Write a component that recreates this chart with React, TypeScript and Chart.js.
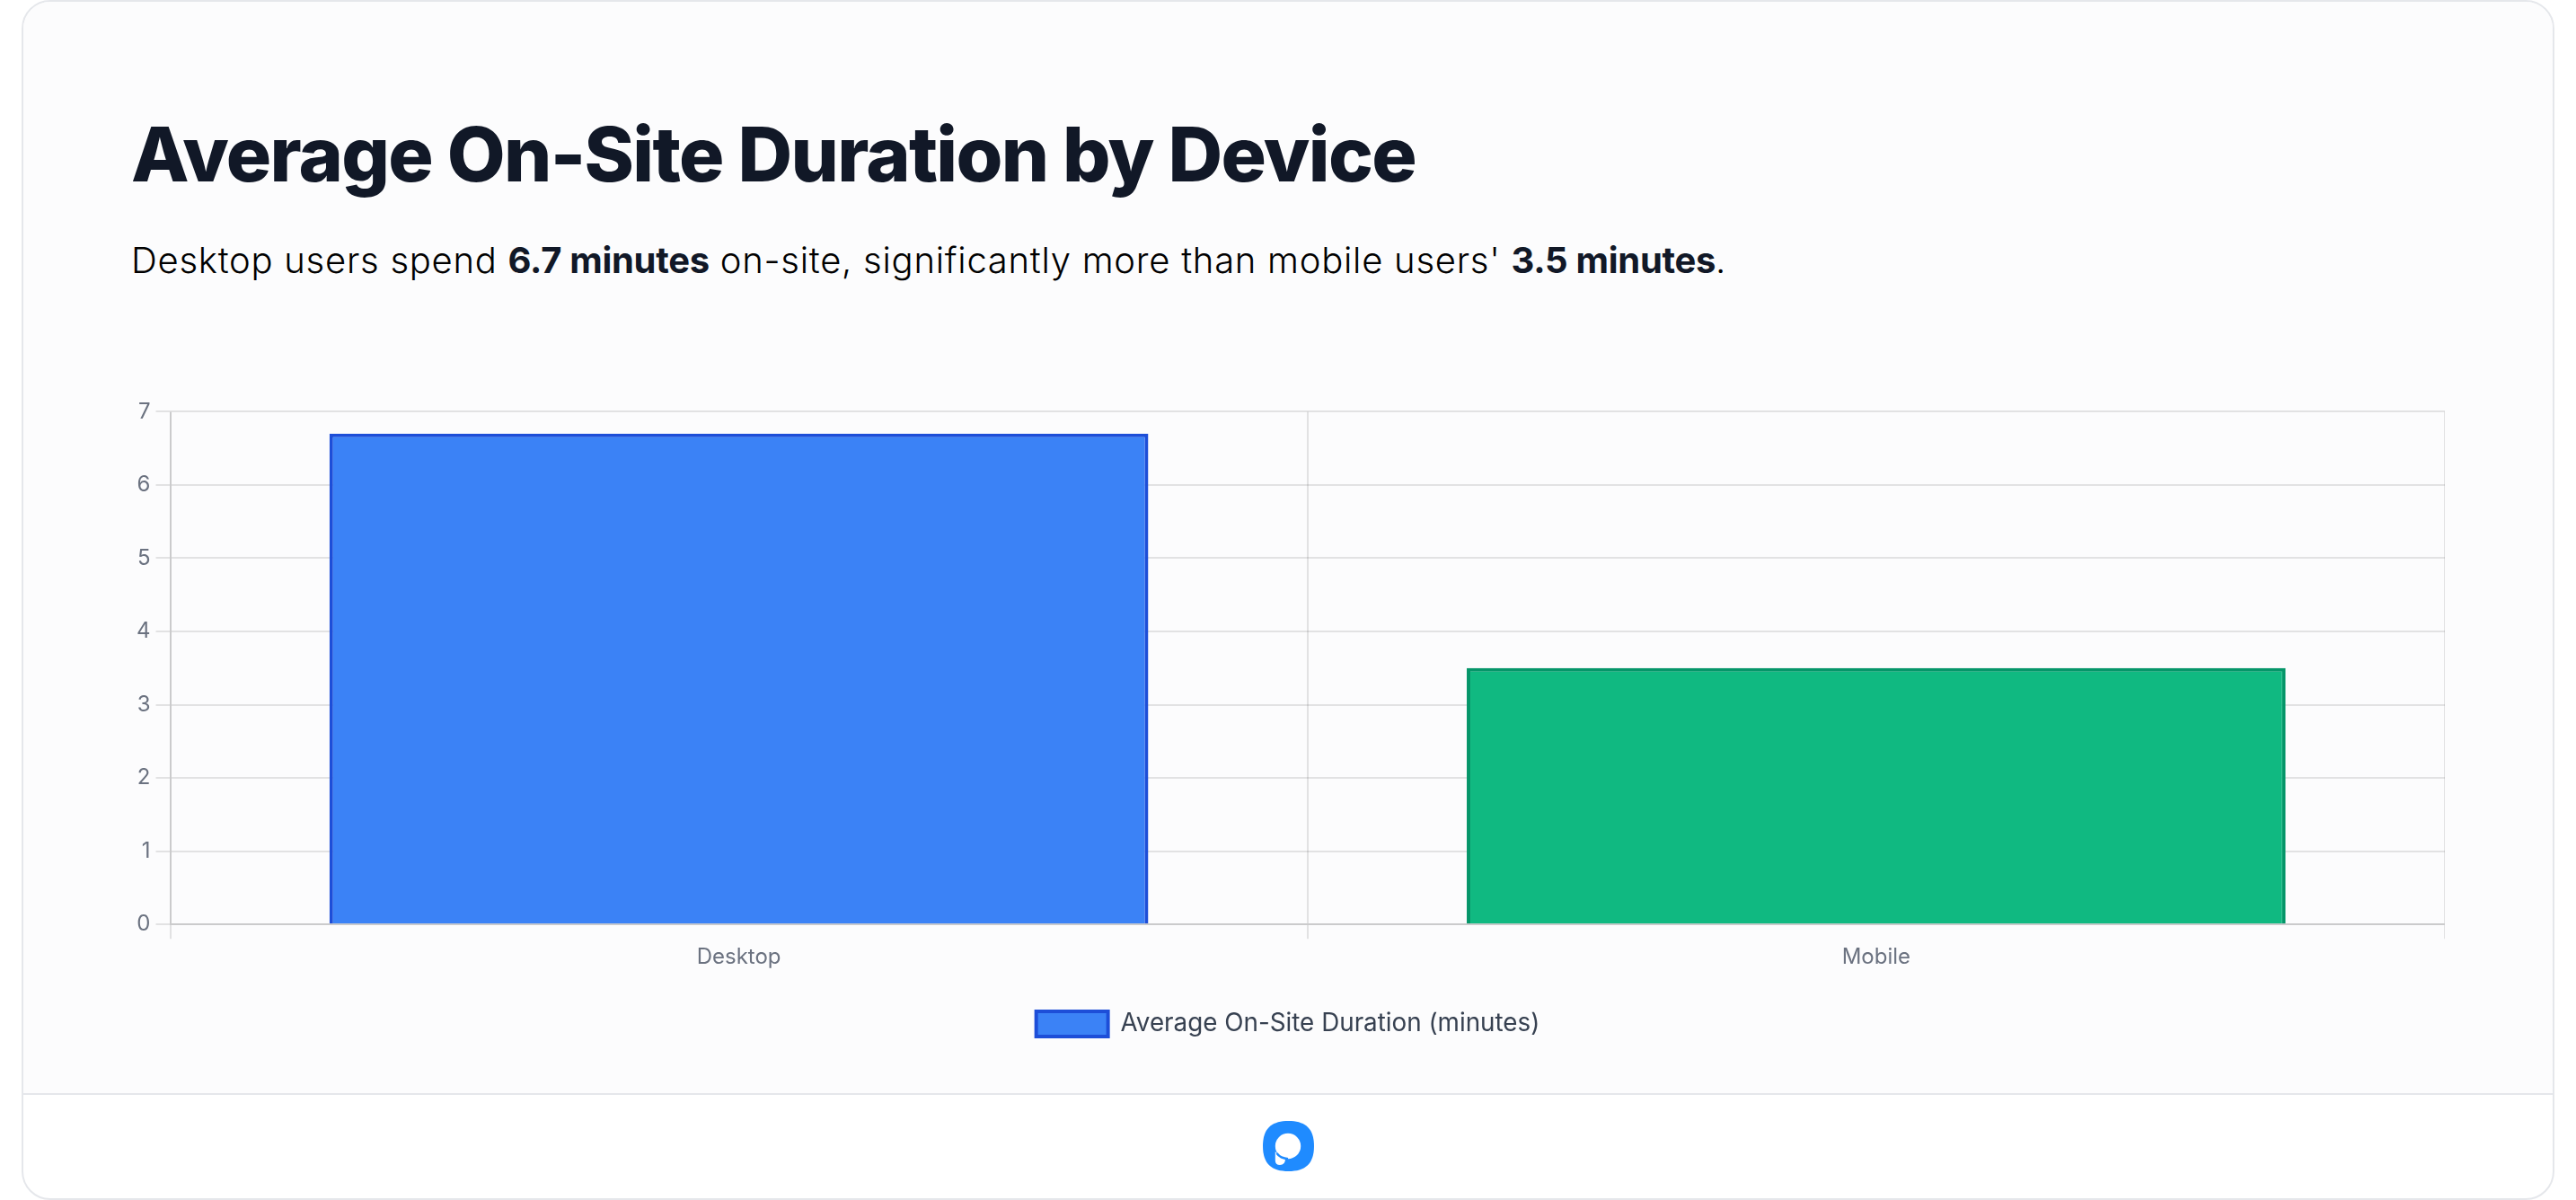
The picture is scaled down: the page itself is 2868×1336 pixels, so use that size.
import { useEffect, useRef } from 'react';
import { Chart, registerables } from 'chart.js';

Chart.register(...registerables);

const categories = ['Desktop', 'Mobile'];
const durations = [6.7, 3.5];
const barColors = ['#3b82f6', '#10b981'];
const barBorders = ['#1d4ed8', '#059669'];
const seriesLabel = 'Average On-Site Duration (minutes)';

const FONT = 'Inter, sans-serif';

function DurationChart() {
  const canvasRef = useRef<HTMLCanvasElement>(null);

  useEffect(() => {
    if (!canvasRef.current) return;
    const chart = new Chart(canvasRef.current, {
      type: 'bar',
      data: {
        labels: categories,
        datasets: [{
          label: seriesLabel,
          data: durations,
          backgroundColor: barColors,
          borderColor: barBorders,
          borderWidth: 4,
        }],
      },
      options: {
        responsive: false,
        animation: false,
        devicePixelRatio: 1,
        layout: { padding: 0 },
        plugins: {
          tooltip: { enabled: false },
          legend: {
            position: 'bottom',
            labels: {
              color: '#374151',
              boxWidth: 80,
              boxHeight: 28,
              padding: 40,
              font: { family: FONT, size: 27.8 },
            },
          },
        },
        scales: {
          x: {
            grid: { lineWidth: 2, tickLength: 16, color: 'rgba(0,0,0,0.1)' },
            border: { width: 2, color: 'rgba(0,0,0,0.1)' },
            ticks: { color: '#6b7280', padding: 6, font: { family: FONT, size: 24 } },
          },
          y: {
            beginAtZero: true,
            min: 0,
            max: 7,
            grid: { lineWidth: 2, tickLength: 16, color: 'rgba(0,0,0,0.1)' },
            border: { width: 2, color: 'rgba(0,0,0,0.1)' },
            ticks: { color: '#6b7280', padding: 6, stepSize: 1, font: { family: FONT, size: 24 } },
          },
        },
      },
    });
    return () => chart.destroy();
  }, []);

  return (
    <canvas
      ref={canvasRef}
      width={2576}
      height={726}
      style={{ position: 'absolute', left: 146, top: 438, width: 2576, height: 726 }}
    />
  );
}

export default function App() {
  const bold = { fontWeight: 700, letterSpacing: -0.3, color: '#111827' };
  return (
    <div style={{ position: 'absolute', left: 0, top: 0, width: 2868, height: 1336, background: '#fff', fontFamily: FONT, overflow: 'hidden' }}>
      <div style={{ position: 'absolute', left: 24, top: 0, width: 2820, height: 1336, boxSizing: 'border-box', border: '2px solid #e5e7eb', borderRadius: 32, background: '#fff', overflow: 'hidden' }}>
        <div style={{ position: 'absolute', left: 0, top: 0, right: 0, height: 1215, background: '#fcfcfd', borderBottom: '2px solid #e5e7eb', boxSizing: 'content-box' }} />
      </div>
      <div style={{ position: 'absolute', left: 146, top: 122, fontSize: 84, fontWeight: 800, letterSpacing: -1.68, lineHeight: '100px', color: '#111827', whiteSpace: 'nowrap' }}>
        Average On-Site Duration by Device
      </div>
      <div style={{ position: 'absolute', left: 146, top: 260, fontSize: 40, fontWeight: 300, letterSpacing: 0.74, lineHeight: '60px', color: '#000', whiteSpace: 'nowrap' }}>
        Desktop users spend <b style={bold}>6.7 minutes</b> on-site, significantly more than mobile users' <b style={bold}>3.5 minutes</b>.
      </div>
      <DurationChart />
      <svg style={{ position: 'absolute', left: 1406, top: 1248 }} width={57} height={56} viewBox="0 0 57 56">
        <path d="M28.5 0C47 0 57 8 57 28C57 48 47 56 28.5 56C10 56 0 48 0 28C0 8 10 0 28.5 0Z" fill="#1f8bff" />
        <circle cx="28" cy="28" r="14.2" fill="#fff" />
        <path d="M13.8 28L13.8 44Q13.8 49 19 49Q25 49 25 42Q19 41 13.8 34Z" fill="#fff" />
        <path d="M15.5 36Q19.5 41.5 28 42.2" stroke="#1f8bff" strokeWidth="2.4" fill="none" />
      </svg>
    </div>
  );
}
